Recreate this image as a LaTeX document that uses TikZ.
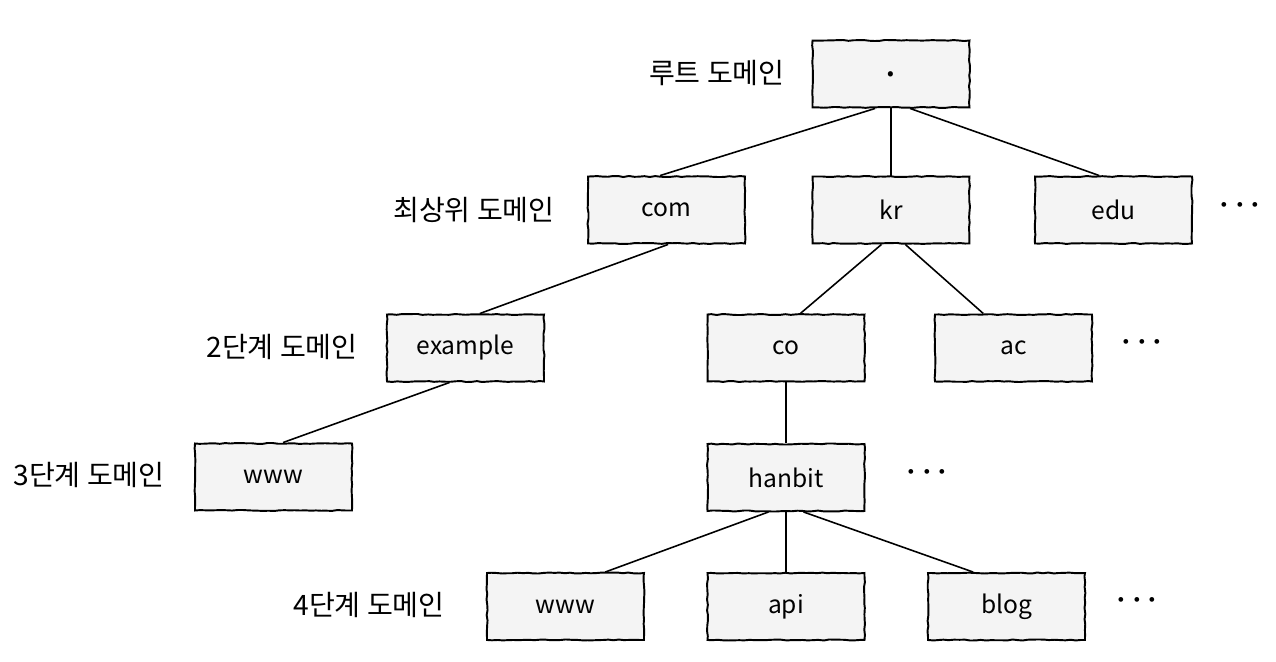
\documentclass[tikz,border=0pt]{standalone}
\usepackage{fontspec}
\setmainfont{Noto Sans CJK KR}
\usetikzlibrary{calc,decorations.pathmorphing}
\definecolor{boxfill}{HTML}{F4F4F4}
\begin{document}
\pgfmathsetseed{7}
\begin{tikzpicture}[x=0.02cm,y=-0.02cm,
 dbox/.style={draw=black, fill=boxfill, line width=1.1pt, minimum width=3.14cm, minimum height=1.34cm, inner sep=0pt, font=\fontsize{14}{16}\selectfont,
   decoration={random steps,segment length=3pt,amplitude=0.3pt}, decorate},
 lvl/.style={font=\fontsize{16}{19}\selectfont, anchor=east, inner sep=0pt},
 edge/.style={line width=0.9pt},
 more/.style={font=\fontsize{18}{20}\selectfont\boldmath, inner sep=0pt}]
\useasboundingbox (0,0) rectangle (1276,662);
% boxes
\node[dbox] (root) at (891,74) {\raisebox{-1.5pt}{\fontsize{22}{24}\selectfont .}};
\node[dbox] (com) at (666.5,210) {com};
\node[dbox] (kr) at (891,210) {kr};
\node[dbox] (edu) at (1113.5,210) {edu};
\node[dbox] (example) at (465.5,348) {example};
\node[dbox] (co) at (786,348) {co};
\node[dbox] (ac) at (1013.5,348) {ac};
\node[dbox] (wwwa) at (273.5,477) {www};
\node[dbox] (hanbit) at (786,477.5) {hanbit};
\node[dbox] (wwwb) at (565.5,606.5) {www};
\node[dbox] (api) at (786,606.5) {api};
\node[dbox] (blog) at (1006.5,606.5) {blog};
% level labels
\node[lvl] (l0) at (785,73) {루트 도메인};
\node[lvl] (l1) at (555,210) {최상위 도메인};
\node[lvl] (l2) at (358,347) {2단계 도메인};
\node[lvl] (l3) at (165,475) {3단계 도메인};
\node[lvl] (l4) at (445,605) {4단계 도메인};
% ellipses
\node[more] (m1) at (1240,205) {$\cdots$};
\node[more] (m2) at (1142,342) {$\cdots$};
\node[more] (m3) at (927,472) {$\cdots$};
\node[more] (m4) at (1137,600) {$\cdots$};
% connectors
\draw[edge] ($(root.south west)!0.40!(root.south east)$) -- ($(com.north west)!0.46!(com.north east)$);
\draw[edge] (root.south) -- (kr.north);
\draw[edge] ($(root.south west)!0.62!(root.south east)$) -- ($(edu.north west)!0.41!(edu.north east)$);
\draw[edge] ($(com.south west)!0.51!(com.south east)$) -- ($(example.north west)!0.59!(example.north east)$);
\draw[edge] ($(example.south west)!0.40!(example.south east)$) -- ($(wwwa.north west)!0.56!(wwwa.north east)$);
\draw[edge] ($(kr.south west)!0.44!(kr.south east)$) -- ($(co.north west)!0.59!(co.north east)$);
\draw[edge] ($(kr.south west)!0.59!(kr.south east)$) -- ($(ac.north west)!0.31!(ac.north east)$);
\draw[edge] (co.south) -- (hanbit.north);
\draw[edge] ($(hanbit.south west)!0.39!(hanbit.south east)$) -- ($(wwwb.north west)!0.75!(wwwb.north east)$);
\draw[edge] (hanbit.south) -- (api.north);
\draw[edge] ($(hanbit.south west)!0.61!(hanbit.south east)$) -- ($(blog.north west)!0.29!(blog.north east)$);
\end{tikzpicture}
\end{document}
